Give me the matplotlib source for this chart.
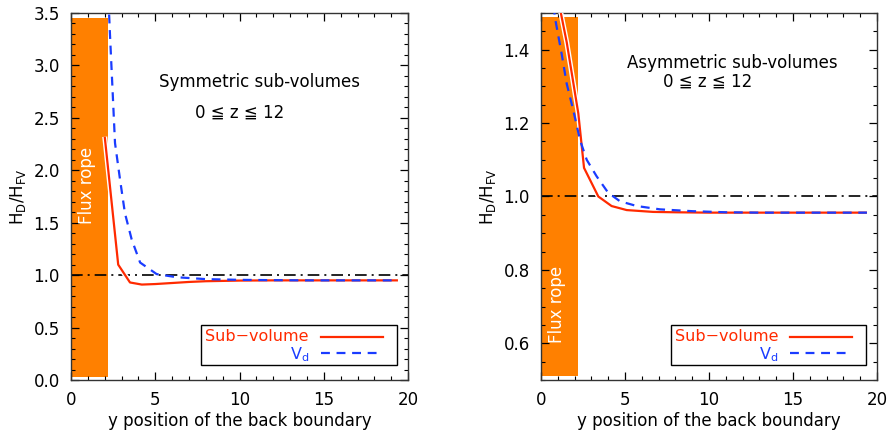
"""Helicity ratio H_D/H_FV vs back-boundary position, two sub-volume setups."""
import numpy as np
import matplotlib
matplotlib.use("Agg")
import matplotlib.pyplot as plt
import matplotlib.patheffects as pe
from matplotlib.ticker import MultipleLocator, FormatStrFormatter

plt.rcParams.update({"font.family": "DejaVu Sans", "font.size": 12})

RED = "#ff2a00"
BLUE = "#1a3cff"
ORANGE = "#ff8000"

# symmetric sub-volumes (left)
sym_sub_y = [2.0, 2.8, 3.5, 4.2, 5.0, 6.0, 7.0, 8.0, 10.0, 12.0, 14.0, 16.0, 18.0, 19.4]
sym_sub_h = [2.32, 1.10, 0.93, 0.91, 0.915, 0.925, 0.935, 0.942, 0.948, 0.95, 0.95, 0.95, 0.95, 0.95]
sym_vd_y = [2.15, 2.31, 2.61, 2.91, 3.20, 3.60, 4.10, 5.08, 6.27, 8.0, 10.0, 12.0, 14.0, 16.0, 18.0, 19.4]
sym_vd_h = [3.9, 3.30, 2.26, 1.91, 1.59, 1.34, 1.12, 1.01, 0.98, 0.962, 0.955, 0.952, 0.95, 0.95, 0.95, 0.95]

# asymmetric sub-volumes (right)
asym_sub_y = [1.05, 1.53, 2.22, 2.56, 3.41, 4.2, 5.1, 6.67, 8.0, 10.0, 12.0, 14.0, 16.0, 18.0, 19.4]
asym_sub_h = [1.53, 1.42, 1.226, 1.078, 1.0, 0.974, 0.963, 0.958, 0.957, 0.956, 0.956, 0.956, 0.956, 0.956, 0.956]
asym_vd_y = [0.75, 0.83, 1.23, 1.53, 1.92, 2.32, 2.72, 3.31, 4.0, 4.7, 5.7, 7.08, 9.0, 11.0, 13.0, 15.0, 17.0, 19.4]
asym_vd_h = [1.52, 1.487, 1.388, 1.307, 1.235, 1.154, 1.10, 1.055, 1.01, 0.987, 0.974, 0.965, 0.96, 0.957, 0.956, 0.956, 0.956, 0.956]

ROPE_W = 2.2
panels = [
    dict(pos=[0.0798, 0.1204, 0.3787, 0.8495], ylim=(0.0, 3.5), major=0.5, minor=0.1,
         rope=(0.03, 3.45), rope_txt=1.86, sub=(sym_sub_y, sym_sub_h), vd=(sym_vd_y, sym_vd_h),
         title="Symmetric sub-volumes", tpos=(11.2, 2.84), zpos=(10.0, 2.55), ylx=-0.128),
    dict(pos=[0.6079, 0.1204, 0.3775, 0.8495], ylim=(0.5, 1.5), major=0.2, minor=0.05,
         rope=(0.51, 1.49), rope_txt=0.705, sub=(asym_sub_y, asym_sub_h), vd=(asym_vd_y, asym_vd_h),
         title="Asymmetric sub-volumes", tpos=(11.4, 1.363), zpos=(9.9, 1.312), ylx=-0.127),
]

fig = plt.figure(figsize=(8.9, 4.32), dpi=100)
for p in panels:
    ax = fig.add_axes(p["pos"])
    lo, hi = p["rope"]
    ax.bar(0, hi - lo, width=ROPE_W, bottom=lo, align="edge", color=ORANGE, zorder=1)
    ax.text(0.93, p["rope_txt"], "Flux rope", color="white", rotation=90,
            ha="center", va="center", fontsize=12, zorder=2)
    ax.axhline(1.0, color="black", lw=1.2, dashes=(7, 3, 1.2, 3), zorder=3)
    ax.plot(*p["sub"], color=RED, lw=1.6, zorder=4, solid_capstyle="butt",
            path_effects=[pe.withStroke(linewidth=3.6, foreground="white")])
    ax.plot(*p["vd"], color=BLUE, lw=1.6, dashes=(4, 3), zorder=5)
    ax.text(*p["tpos"], p["title"], ha="center", va="center", fontsize=12)
    ax.text(*p["zpos"], "0 \u2266 z \u2266 12", ha="center", va="center", fontsize=12)

    # legend box, IDL style (labels right-aligned, lines to the right)
    ax.add_patch(plt.Rectangle((0.386, 0.041), 0.581, 0.109, transform=ax.transAxes,
                               fill=False, ec="black", lw=1.0, zorder=6))
    ax.text(0.706, 0.118, "Sub\u2212volume", color=RED, ha="right", va="center",
            transform=ax.transAxes, fontsize=11.5, zorder=7)
    ax.text(0.706, 0.070, r"V$_\mathrm{d}$", color=BLUE, ha="right", va="center",
            transform=ax.transAxes, fontsize=11.5, zorder=7)
    ax.plot([0.742, 0.925], [0.118, 0.118], color=RED, lw=1.6, transform=ax.transAxes, zorder=7)
    ax.plot([0.742, 0.925], [0.074, 0.074], color=BLUE, lw=1.6, dashes=(4, 3),
            transform=ax.transAxes, zorder=7)

    ax.set_xlim(0, 20)
    ax.set_ylim(*p["ylim"])
    ax.xaxis.set_major_locator(MultipleLocator(5))
    ax.xaxis.set_minor_locator(MultipleLocator(1))
    ax.yaxis.set_major_locator(MultipleLocator(p["major"]))
    ax.yaxis.set_minor_locator(MultipleLocator(p["minor"]))
    ax.yaxis.set_major_formatter(FormatStrFormatter("%.1f"))
    ax.tick_params(which="both", direction="in", top=True, right=True, labelsize=12, pad=8)
    ax.tick_params(which="major", length=6, width=0.9)
    ax.tick_params(which="minor", length=3, width=0.8)
    ax.set_xlabel("y position of the back boundary", fontsize=12, labelpad=2)
    ax.set_ylabel(r"H$_\mathrm{D}$/H$_\mathrm{FV}$", fontsize=12)
    ax.yaxis.set_label_coords(p["ylx"], 0.5)
    for s in ax.spines.values():
        s.set_linewidth(1.0)
        s.set_color("#333333")
    ax.spines["left"].set_zorder(8)

fig.savefig("out.png", dpi=100)
